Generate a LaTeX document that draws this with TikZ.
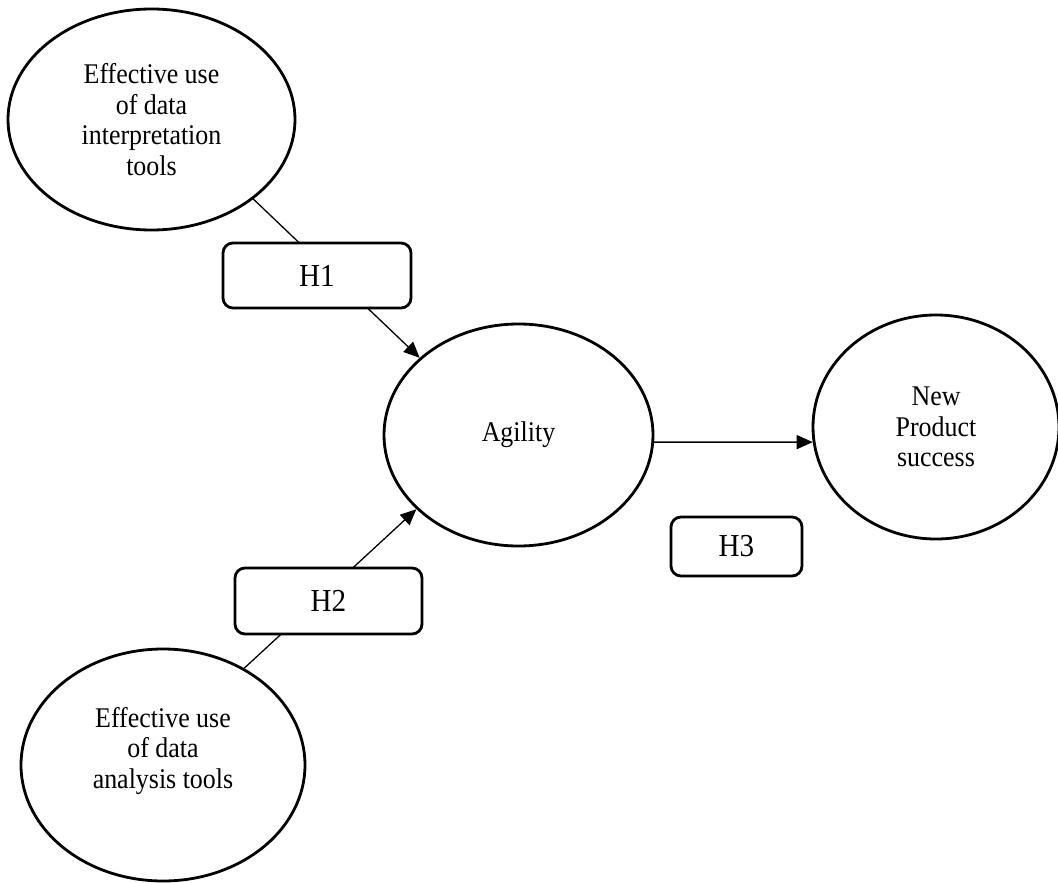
\documentclass[tikz,border=0pt]{standalone}
\usepackage{fontspec}
\setmainfont[FakeStretch=0.91]{Liberation Serif}
\usetikzlibrary{shapes.geometric,arrows.meta}
\begin{document}
\begin{tikzpicture}[x=1pt,y=-1pt,
  oval/.style={draw, ellipse, line width=2.8pt, inner sep=0pt, align=center, font=\fontsize{28.5}{30.5}\selectfont},
  ovaltext/.style={align=center, font=\fontsize{28.5}{30.5}\selectfont},
  hbox/.style={draw, rounded corners=10pt, line width=2.8pt, fill=white, inner sep=0pt, font=\fontsize{32}{34}\selectfont},
  link/.style={line width=1.3pt},
  arr/.style={link, -{Triangle[length=16pt,width=14pt]}}]
\useasboundingbox[fill=white] (0,0) rectangle (1058,883);
\node[oval, minimum width=287pt, minimum height=221pt] (e1) at (151.5,119.5) {Effective use\\of data\\interpretation\\tools};
\node[oval, minimum width=284pt, minimum height=232pt,
  label={[ovaltext,yshift=14pt]center:Effective use\\of data\\analysis tools}] (e4) at (163,765) {};
\node[oval, minimum width=269pt, minimum height=222pt] (ag) at (518.5,435) {Agility};
\node[oval, minimum width=246pt, minimum height=224pt] (nps) at (936,427) {New\\Product\\success};
\draw[arr] (e1.-38.7) -- (ag.142.3);
\draw[arr] (e4.50.8) -- (ag.216.6);
\draw[arr] (ag.-3.8) -- (nps.187);
\node[hbox, minimum width=188pt, minimum height=65pt] (h1) at (317,275.5) {H1};
\node[hbox, minimum width=187pt, minimum height=66pt] (h2) at (328.5,601) {H2};
\node[hbox, minimum width=131pt, minimum height=59pt] (h3) at (736.5,546.5) {H3};
\end{tikzpicture}
\end{document}
